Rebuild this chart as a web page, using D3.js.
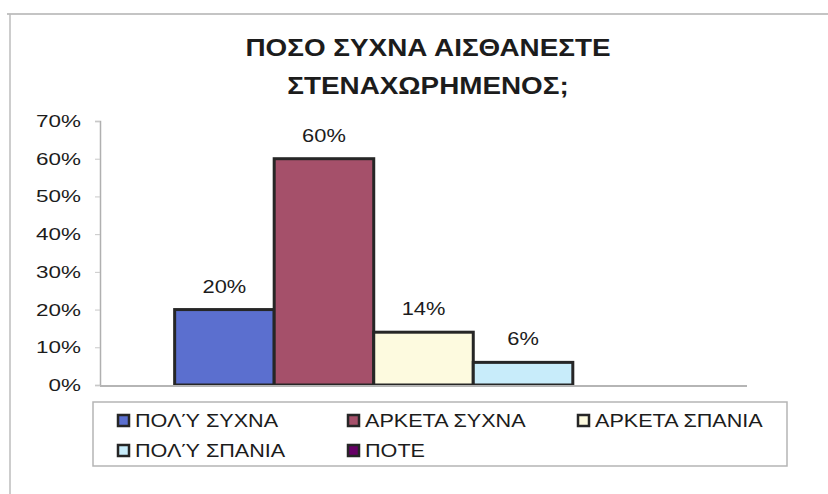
<!DOCTYPE html>
<html>
<head>
<meta charset="utf-8">
<script src="https://cdn.jsdelivr.net/npm/d3@7/dist/d3.min.js"></script>
<style>
  html, body { margin: 0; padding: 0; background: #fff; }
  svg { display: block; }
  text { font-family: "Liberation Sans", Arial, sans-serif; fill: #1c1c1c; }
</style>
</head>
<body>
<svg id="chart" width="828" height="494"></svg>
<script>
// ---- data ----
const titleLines = ["ΠΟΣΟ ΣΥΧΝΑ ΑΙΣΘΑΝΕΣΤΕ", "ΣΤΕΝΑΧΩΡΗΜΕΝΟΣ;"];
const seriesNames = ["ΠΟΛΎ ΣΥΧΝΑ", "ΑΡΚΕΤΑ ΣΥΧΝΑ", "ΑΡΚΕΤΑ ΣΠΑΝΙΑ", "ΠΟΛΎ ΣΠΑΝΙΑ", "ΠΟΤΕ"];
const seriesValues = [0.20, 0.60, 0.14, 0.06, 0.0];
const dataLabels = ["20%", "60%", "14%", "6%", ""];
const seriesColors = ["#5b6fcf", "#a5506a", "#fdfadf", "#c8ecfa", "#660066"];
const yTicks = [0, 0.1, 0.2, 0.3, 0.4, 0.5, 0.6, 0.7];

const svg = d3.select("#chart");

// helper: horizontally stretched text (reference glyphs are wider)
function stext(g, x, y, str, size, sx, anchor, weight) {
  return g.append("text")
    .attr("transform", `translate(${x},${y}) scale(${sx},1)`)
    .attr("text-anchor", anchor || "start")
    .style("font-size", size + "px")
    .style("font-weight", weight || "normal")
    .text(str);
}

// frame
svg.append("line").attr("x1", 7).attr("x2", 828).attr("y1", 14).attr("y2", 14)
  .attr("stroke", "#c4c4c4").attr("stroke-width", 2);
svg.append("line").attr("x1", 10).attr("x2", 10).attr("y1", 14).attr("y2", 494)
  .attr("stroke", "#bdbdbd").attr("stroke-width", 1.5);

// title
stext(svg, 428, 56, titleLines[0], 24, 1.16, "middle", "bold");
stext(svg, 428, 94, titleLines[1], 24, 1.16, "middle", "bold");

// scales
const plotLeft = 100, plotRight = 747, plotTop = 121, plotBottom = 385;
const y = d3.scaleLinear().domain([0, 0.7]).range([plotBottom, plotTop]);
const x = d3.scaleBand().domain(seriesNames).range([plotLeft, plotRight])
  .paddingInner(0).paddingOuter(0.75);

// y axis
const yAxis = d3.axisLeft(y).tickValues(yTicks).tickFormat(d3.format(".0%")).tickSize(5);
const ag = svg.append("g").attr("transform", `translate(${plotLeft},0)`).call(yAxis);
ag.select(".domain").attr("stroke", "#b0b0b0").attr("stroke-width", 1.5);
ag.selectAll(".tick line").attr("stroke", "#c8c8c8");
ag.selectAll(".tick text").remove();
yTicks.forEach(t => {
  stext(svg, 81, y(t) + 6, d3.format(".0%")(t), 17, 1.32, "end");
});

// bars
svg.append("g").selectAll("rect").data(seriesNames).join("rect")
  .attr("x", d => x(d))
  .attr("width", x.bandwidth())
  .attr("y", (d, i) => y(seriesValues[i]))
  .attr("height", (d, i) => y(0) - y(seriesValues[i]))
  .attr("fill", (d, i) => seriesColors[i])
  .attr("stroke", (d, i) => seriesValues[i] > 0 ? "#262626" : "none")
  .attr("stroke-width", 3);

// baseline
svg.append("line").attr("x1", plotLeft).attr("x2", plotRight)
  .attr("y1", plotBottom + 1).attr("y2", plotBottom + 1)
  .attr("stroke", "#b5b5b5").attr("stroke-width", 2);

// data labels
seriesNames.forEach((d, i) => {
  if (!dataLabels[i]) return;
  stext(svg, x(d) + x.bandwidth() / 2, y(seriesValues[i]) - 17, dataLabels[i], 19, 1.15, "middle");
});

// legend
const lg = svg.append("g");
lg.append("rect").attr("x", 93).attr("y", 402).attr("width", 694).attr("height", 64)
  .attr("fill", "#fff").attr("stroke", "#b5b5b5").attr("stroke-width", 1.5);
const colX = [117, 347, 577];
const rowY = [427, 457];
seriesNames.forEach((d, i) => {
  const cx = colX[i % 3], ry = rowY[Math.floor(i / 3)];
  lg.append("rect").attr("x", cx + 1).attr("y", ry - 12).attr("width", 11).attr("height", 11)
    .attr("fill", seriesColors[i]).attr("stroke", "#262626").attr("stroke-width", 2.5);
  stext(lg, cx + 18, ry, d, 18, 1.2, "start");
});
</script>
</body>
</html>
